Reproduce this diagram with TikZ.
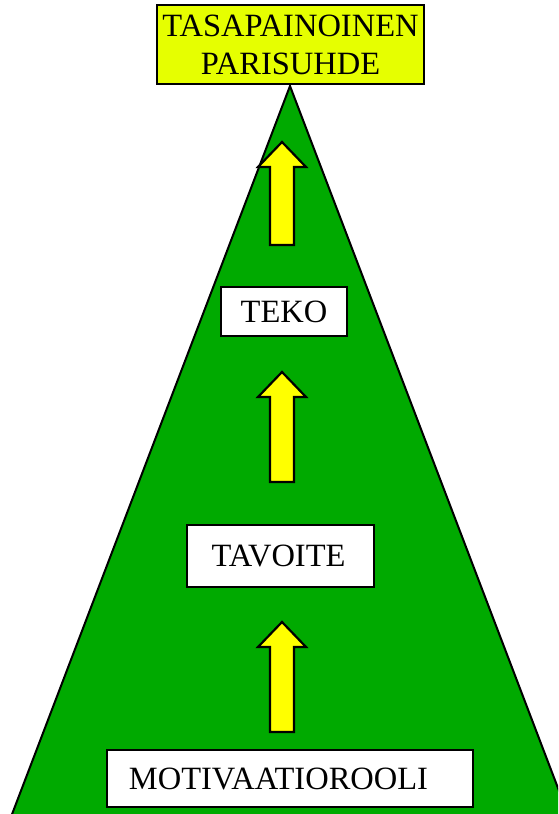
\documentclass[tikz,border=0pt]{standalone}
\usepackage{fontspec}
\setmainfont{Liberation Serif}
\usepackage{xcolor}
\definecolor{pyramid}{HTML}{00AA00}
\definecolor{arrowyellow}{HTML}{FFFF00}
\definecolor{goalyellow}{HTML}{E6FF00}
\tikzset{
	stagebox/.style={draw=black, fill=white, line width=2.2pt, inner sep=0pt,
		font=\fontsize{32.5pt}{38pt}\selectfont},
	goalbox/.style={stagebox, fill=goalyellow, align=center},
	uparrow/.style={draw=black, fill=arrowyellow, line width=2.2pt, line join=miter}
}

\begin{document}
\begin{tikzpicture}[x=1pt, y=-1pt]
	\useasboundingbox (0,0) rectangle (558,814);
	
	% pyramid
	\begin{scope}
	\clip (0,0) rectangle (558,814);
	\draw[fill=pyramid, line width=2pt] (290,86) -- (6,830) -- (574,830) -- cycle;
	\end{scope}
	
	% arrows between the stages
	\foreach \t/\b in {142/245, 372/482, 622/732}{
		\draw[uparrow] (282,\t) -- (306,\t+25) -- (294,\t+25) -- (294,\b)
			-- (270,\b) -- (270,\t+25) -- (258,\t+25) -- cycle;
	}
	
	% stages
	\node[goalbox, minimum width=267pt, minimum height=79pt] (goal) at (290.5,44.5) {TASAPAINOINEN\\PARISUHDE};
	\node[stagebox, minimum width=126pt, minimum height=49pt] (teko) at (284,311.5) {TEKO};
	\node[stagebox, minimum width=187pt, minimum height=62pt] (tavoite) at (280.5,556) {TAVOITE\hspace*{4pt}};
	\node[stagebox, minimum width=366pt, minimum height=57pt] (motivaatio) at (290,778.5) {MOTIVAATIOROOLI\hspace*{23pt}};
	
\end{tikzpicture}
\end{document}
